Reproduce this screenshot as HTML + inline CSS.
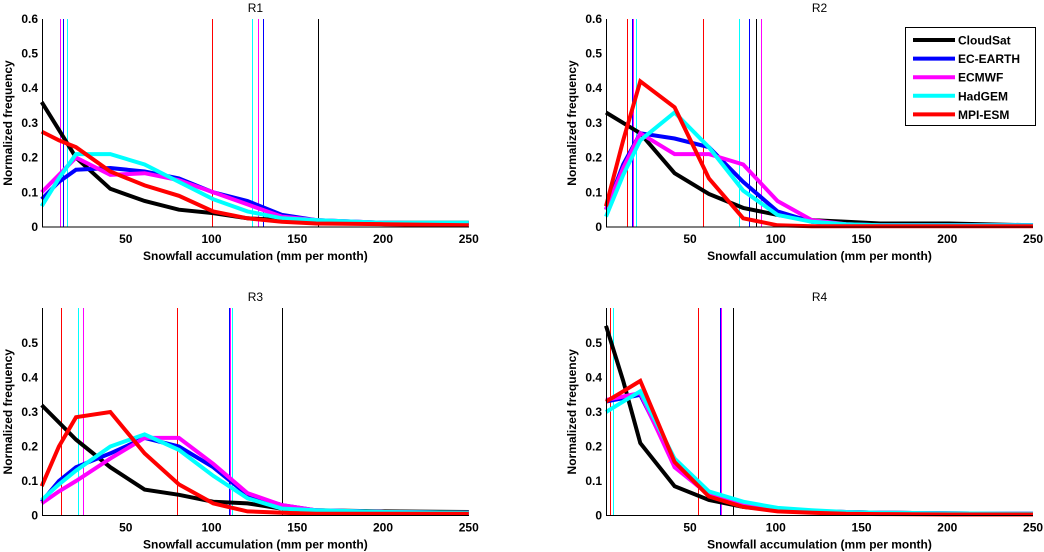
<!DOCTYPE html>
<html><head><meta charset="utf-8"><style>
body{margin:0;background:#fff;}
svg{display:block;font-family:"Liberation Sans",Arial,sans-serif;}
.tk{font-size:12px;font-weight:bold;}
</style></head><body>
<svg id="c" width="1044" height="552"></svg>
<script>
const xs=[1,11,21,41,61,81,101,121,141,161,201,250];
const seriesNames=["CloudSat","EC-EARTH","ECMWF","HadGEM","MPI-ESM"];
const colors=["#000","#0000ff","#ff00ff","#00ffff","#ff0000"];
const xTicks=[50,100,150,200,250];
const yTicks=[0,0.1,0.2,0.3,0.4,0.5,0.6];
const r1Black=[0.36,0.28,0.2,0.11,0.075,0.05,0.04,0.025,0.02,0.015,0.012,0.012];
const r1Blue=[0.08,0.13,0.165,0.17,0.16,0.14,0.1,0.075,0.035,0.02,0.012,0.01];
const r1Mag=[0.1,0.15,0.2,0.15,0.155,0.135,0.1,0.065,0.03,0.02,0.012,0.01];
const r1Cyan=[0.06,0.14,0.21,0.21,0.18,0.13,0.08,0.045,0.025,0.02,0.012,0.012];
const r1Red=[0.275,0.25,0.23,0.16,0.12,0.09,0.045,0.025,0.015,0.01,0.008,0.005];
const r1V=[[4,1],[4,100],[2,11.5],[1,13.6],[3,15.5],[3,123.5],[2,127],[1,130],[0,162]];
const r2Black=[0.33,0.3,0.27,0.155,0.095,0.055,0.035,0.02,0.015,0.01,0.01,0.005];
const r2Blue=[0.05,0.18,0.27,0.255,0.23,0.13,0.045,0.015,0.008,0.005,0.005,0.005];
const r2Mag=[0.05,0.17,0.27,0.21,0.21,0.18,0.075,0.02,0.008,0.005,0.005,0.005];
const r2Cyan=[0.03,0.15,0.25,0.33,0.23,0.105,0.035,0.015,0.008,0.005,0.005,0.005];
const r2Red=[0.06,0.25,0.42,0.345,0.14,0.025,0.005,0.002,0.002,0.002,0.002,0.002];
const r2V=[[4,13],[1,16],[2,16.8],[3,18.3],[4,57.7],[3,78.7],[1,84.5],[0,88.6],[2,91.5]];
const r3Black=[0.32,0.27,0.22,0.14,0.075,0.06,0.04,0.035,0.02,0.015,0.012,0.01];
const r3Blue=[0.04,0.1,0.14,0.18,0.225,0.2,0.14,0.06,0.03,0.015,0.01,0.008];
const r3Mag=[0.035,0.07,0.1,0.165,0.225,0.225,0.15,0.065,0.03,0.015,0.01,0.008];
const r3Cyan=[0.045,0.09,0.13,0.2,0.235,0.19,0.115,0.05,0.02,0.015,0.01,0.008];
const r3Red=[0.085,0.2,0.285,0.3,0.18,0.09,0.035,0.012,0.008,0.005,0.005,0.005];
const r3V=[[4,12.4],[3,22.3],[2,25],[4,80],[1,110],[2,111],[3,112],[0,141]];
const r4Black=[0.55,0.39,0.21,0.085,0.045,0.025,0.015,0.012,0.01,0.008,0.006,0.005];
const r4Blue=[0.33,0.34,0.35,0.15,0.065,0.035,0.02,0.012,0.01,0.008,0.006,0.005];
const r4Mag=[0.335,0.345,0.355,0.14,0.06,0.035,0.02,0.013,0.01,0.008,0.006,0.005];
const r4Cyan=[0.3,0.33,0.36,0.165,0.07,0.04,0.022,0.015,0.01,0.008,0.006,0.005];
const r4Red=[0.33,0.36,0.39,0.155,0.055,0.025,0.012,0.008,0.005,0.004,0.003,0.003];
const r4V=[[3,5.3],[4,3.2],[4,54.5],[1,67.6],[2,68.2],[0,75.2]];

const NS="http://www.w3.org/2000/svg";
const svg=document.getElementById('c');
function mk(t,a,p){const e=document.createElementNS(NS,t);for(const k in a)e.setAttribute(k,a[k]);(p||svg).appendChild(e);return e;}

const panels=[
 {title:"R1",L:42,x0:40,top:19,bot:227,ppv:347,s:[r1Black,r1Blue,r1Mag,r1Cyan,r1Red],v:r1V,top06:true},
 {title:"R2",L:606,x0:604.3,top:19,bot:227,ppv:347,s:[r2Black,r2Blue,r2Mag,r2Cyan,r2Red],v:r2V,top06:true},
 {title:"R3",L:42,x0:40,top:308,bot:515.5,ppv:345,s:[r3Black,r3Blue,r3Mag,r3Cyan,r3Red],v:r3V,top06:false},
 {title:"R4",L:606,x0:604.3,top:308,bot:515.5,ppv:345,s:[r4Black,r4Blue,r4Mag,r4Cyan,r4Red],v:r4V,top06:false}
];
const PPU=1.715;
panels.forEach((p,pi)=>{
 const g=mk('g',{});
 
 
 const X=v=>p.x0+v*PPU, Y=v=>p.bot-v*p.ppv;
 const R=X(250);
 p.v.forEach(([c,v])=>{
  const xx=Math.round(X(v))+0.5;
  const l=mk('line',{x1:xx,x2:xx,y1:p.top,y2:p.bot,stroke:colors[c],'stroke-width':1,'shape-rendering':'crispEdges'},g);
  
  
 });
 p.s.forEach((arr,si)=>{
  const pts=arr.map((v,i)=>X(xs[i]).toFixed(1)+','+Y(v).toFixed(1)).join(' ');
  const pl=mk('polyline',{points:pts,fill:'none',stroke:colors[si],'stroke-width':4,'stroke-linejoin':'miter'},g);
  
  
 });
 const ax=mk('path',{d:`M${p.L+0.5},${p.top}V${p.bot}H${R}`,stroke:'#000','stroke-width':1,fill:'none','shape-rendering':'crispEdges'},g);
 
 
 xTicks.forEach(t=>{
  const tx=mk('text',{x:X(t),y:p.bot+16,'text-anchor':'middle',class:'tk'},g);tx.textContent=t;
  
  
 });
 yTicks.forEach(t=>{
  if(t===0.6&&!p.top06)return;
  const ty=mk('text',{x:p.L-4,y:Y(t)+4,'text-anchor':'end',class:'tk'},g);ty.textContent=t===0?'0':t.toFixed(1);
  
  
 });
 const tt=mk('text',{x:(p.L+R)/2,y:p.top-7,'text-anchor':'middle','font-size':12},g);tt.textContent=p.title;
 
 
 const xl=mk('text',{x:(p.L+R)/2,y:p.bot+33,'text-anchor':'middle','font-size':12,'font-weight':'bold'},g);xl.textContent="Snowfall accumulation (mm per month)";
 
 
 const cy=(p.top+p.bot)/2, lx=p.L-30;
 const yl=mk('text',{x:lx,y:cy,'text-anchor':'middle','font-size':12,'font-weight':'bold',transform:`rotate(-90 ${lx} ${cy})`},g);yl.textContent="Normalized frequency";
 
 
});
const lg=mk('g',{});


mk('rect',{x:905.5,y:27.5,width:130,height:98,fill:'#fff',stroke:'#000','stroke-width':1},lg);
seriesNames.forEach((n,i)=>{
 const y=40+i*18.6;
 const e=mk('g',{},lg);
 
 
 mk('line',{x1:913,x2:955,y1:y,y2:y,stroke:colors[i],'stroke-width':4},e);
 const t=mk('text',{x:958,y:y+4.5,'font-size':12,'font-weight':'bold'},e);t.textContent=n;
});
</script>
</body></html>
